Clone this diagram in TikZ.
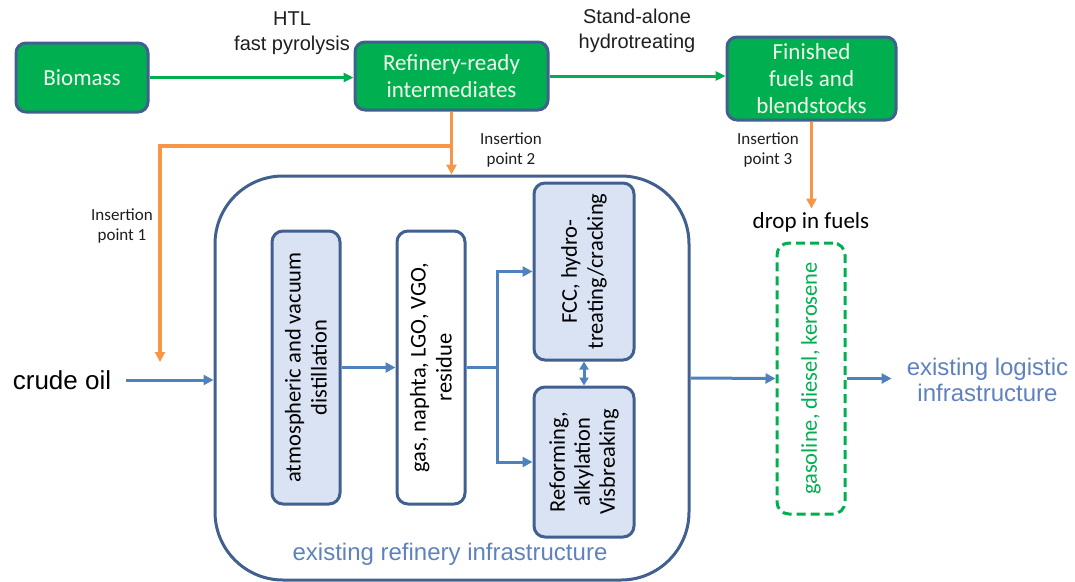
\documentclass[tikz,border=0pt]{standalone}
\usepackage{fontspec}
\setmainfont{Carlito}
\newfontfamily\arialf{Liberation Sans}
\usetikzlibrary{arrows.meta}
\definecolor{gfill}{RGB}{0,176,80}
\definecolor{bord}{RGB}{65,96,143}
\definecolor{barrow}{RGB}{79,129,189}
\definecolor{btext}{RGB}{95,130,190}
\definecolor{orng}{RGB}{247,150,70}
\definecolor{lblue}{RGB}{218,227,243}
\definecolor{wtext}{RGB}{242,248,235}
\definecolor{dtext}{RGB}{30,30,30}
\begin{document}
\begin{tikzpicture}[x=1pt,y=-1pt,
  gbox/.style={draw=bord, line width=3pt, fill=gfill, rounded corners=10pt, text=wtext, align=center, font=\fontsize{23}{27}\selectfont, inner sep=0pt},
  rbox/.style={draw=bord, line width=3pt, rounded corners=11pt, inner sep=0pt},
  vtext/.style={rotate=90, align=center, text=black, font=\fontsize{22.5}{26}\selectfont, inner sep=0pt},
  lbl/.style={align=center, text=dtext, font=\arialf\fontsize{20}{25}\selectfont},
  ilbl/.style={align=center, text=dtext, font=\fontsize{17}{20}\selectfont},
  garrow/.style={draw=gfill, line width=3pt, -{Triangle[length=10pt,width=9pt]}},
  barr/.style={draw=barrow, line width=3pt, -{Triangle[length=10pt,width=10pt]}},
  oarr/.style={draw=orng, line width=3.2pt, -{Triangle[length=10pt,width=10pt]}},
  bluelbl/.style={align=center, text=btext, font=\arialf\fontsize{24}{26}\selectfont, inner sep=0pt}
]
\useasboundingbox (0,0) rectangle (1075,581);

% top row
\node[gbox, minimum width=132pt, minimum height=69pt] (bio) at (82,77.5) {Biomass};
\node[gbox, minimum width=193pt, minimum height=68pt] (ref) at (451.5,76) {Refinery-ready\\intermediates};
\node[gbox, minimum width=169pt, minimum height=83pt] (fin) at (811.5,78.5) {Finished\\fuels and\\blendstocks};

\node[lbl] (htl) at (292,33) {HTL\\fast pyrolysis};
\node[lbl] (sah) at (637,31) {Stand-alone\\hydrotreating};

\draw[garrow] (bio.east) -- (bio.east -| ref.west);
\draw[garrow] (ref.east) -- (ref.east -| fin.west);

% refinery frame
\node[draw=bord, line width=3pt, rounded corners=68pt, minimum width=474pt, minimum height=404pt, inner sep=0pt] (big) at (452,378) {};
\node[bluelbl] (erf) at (450,554) {existing refinery infrastructure};

% inner boxes
\node[rbox, fill=lblue, minimum width=68pt, minimum height=273pt] (atm) at (306,367.5) {};
\node[vtext] (atmt) at (atm.center) {atmospheric and vacuum\\distillation};
\node[rbox, fill=white, minimum width=68pt, minimum height=273pt] (gas) at (431,367.5) {};
\node[vtext] (gast) at (gas.center) {gas, naphta, LGO, VGO,\\residue};
\node[rbox, fill=lblue, minimum width=100pt, minimum height=177pt] (fcc) at (584,271.5) {};
\node[vtext] (fcct) at (fcc.center) {FCC, hydro-\\treating/cracking};
\node[rbox, fill=lblue, minimum width=100pt, minimum height=150pt] (rfm) at (584,462) {};
\node[vtext, font=\fontsize{22.5}{25}\selectfont] (rfmt) at (rfm.center) {Reforming,\\alkylation\\Visbreaking};

% inner flows
\draw[barr] (atm.east) -- (gas.west);
\coordinate (split) at (497,367.5);
\draw[draw=barrow, line width=3pt] (gas.east) -- (split);
\draw[barr] (split) |- (fcc.west);
\draw[barr] (split) |- (rfm.west);
\draw[draw=barrow, line width=3pt, {Triangle[length=8pt,width=9pt]}-{Triangle[length=8pt,width=9pt]}] (fcc.south) -- (rfm.north);

% crude oil
\node[font=\arialf\fontsize{26}{30}\selectfont, text=black, inner sep=0pt] (crude) at (62,380) {crude oil};
\coordinate (cs) at ([xshift=15pt]crude.east);
\draw[barr] (cs) -- (cs -| big.west);

% orange insertion lines
\draw[oarr] (ref.south) -- (ref.south |- big.north);
\coordinate (j1) at (452,146);
\coordinate (ins1) at (160,362);
\draw[oarr] (j1) -| (ins1);
\node[ilbl] (ip1) at (122,226) {Insertion\\point 1};
\node[ilbl] (ip2) at (511,150) {Insertion\\point 2};

% drop-in fuels
\node[font=\fontsize{23}{27}\selectfont, text=black, inner sep=0pt] (drop) at (811,222) {drop in fuels};
\draw[oarr] (fin.south) -- ++(0,87);
\node[ilbl] (ip3) at (768,150) {Insertion\\point 3};

\node[draw=gfill, line width=3pt, dash pattern=on 9pt off 5pt, rounded corners=12pt, minimum width=68pt, minimum height=271pt, inner sep=0pt] (gasl) at (811,378.5) {};
\node[vtext, text=gfill] (gaslt) at (gasl.center) {gasoline, diesel, kerosene};

\draw[barr] (big.east) -- (gasl.west);
\node[bluelbl] (logi) at (987.5,380) {existing logistic\\infrastructure};
\coordinate (lt) at ([xshift=-15pt]logi.west);
\draw[barr] (gasl.east) -- (gasl.east -| lt);
\end{tikzpicture}
\end{document}
